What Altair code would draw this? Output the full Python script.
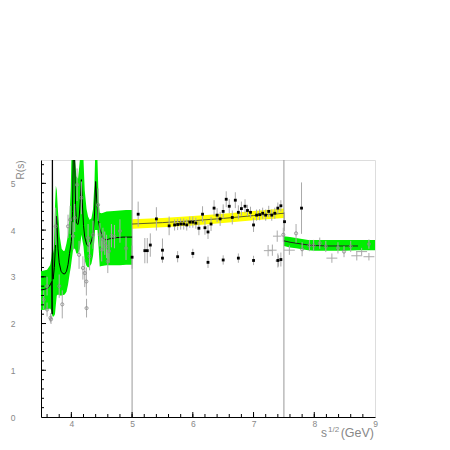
import altair as alt
import pandas as pd

# ---------------- charm region (3.5 - 5 GeV): green band + curve ----------------
band_x = [3.50, 3.60, 3.65, 3.67, 3.69, 3.71, 3.73, 3.745, 3.76, 3.78, 3.81, 3.84, 3.87, 3.89,
          3.92, 3.945, 3.97, 3.99, 4.00, 4.03, 4.06, 4.083, 4.11, 4.14, 4.165, 4.20, 4.22, 4.25,
          4.275, 4.30, 4.33, 4.357, 4.38, 4.39, 4.43, 4.45, 4.467, 4.50, 4.58, 4.70, 4.80, 4.90, 5.00]
band_hi = [3.12, 3.15, 3.25, 3.40, 3.66, 3.50, 4.50, 4.95, 4.85, 4.40, 3.85, 3.60, 3.55, 3.56,
           3.72, 3.90, 4.30, 4.90, 5.50, 5.50, 5.50, 5.15, 5.10, 5.50, 5.50, 5.50, 4.85, 4.45,
           4.29, 4.22, 4.25, 4.45, 5.00, 5.50, 5.50, 4.60, 4.37, 4.36, 4.40, 4.41, 4.42, 4.43, 4.43]
band_lo = [2.29, 2.30, 2.32, 2.28, 2.15, 2.15, 2.20, 2.40, 2.60, 2.62, 2.60, 2.60, 2.61, 2.62,
           2.68, 2.83, 3.05, 3.20, 3.30, 3.60, 3.60, 3.50, 3.50, 3.60, 3.90, 3.65, 3.35, 3.23,
           3.20, 3.22, 3.28, 3.45, 3.80, 4.00, 4.00, 3.60, 3.22, 3.23, 3.25, 3.25, 3.25, 3.26, 3.26]

curve_x = [3.50, 3.55, 3.60, 3.64, 3.67, 3.678, 3.683, 3.686, 3.690, 3.694, 3.70, 3.72, 3.735,
           3.745, 3.755, 3.765, 3.78, 3.80, 3.83, 3.86, 3.89, 3.92, 3.945, 3.97, 4.00, 4.02,
           4.03, 4.055, 4.07, 4.083, 4.11, 4.13, 4.15, 4.165, 4.18, 4.20, 4.22, 4.25, 4.275,
           4.30, 4.33, 4.357, 4.38, 4.40, 4.42, 4.44, 4.467, 4.50, 4.52, 4.55, 4.58, 4.65,
           4.75, 4.85, 5.00]
curve_y = [2.72, 2.73, 2.75, 2.80, 2.88, 2.90, 2.20, 5.50, 5.50, 3.00, 2.95, 3.20, 3.60,
           4.00, 4.30, 4.10, 3.60, 3.30, 3.12, 3.07, 3.06, 3.12, 3.26, 3.50, 3.76, 4.40,
           5.50, 5.50, 4.50, 4.15, 4.12, 4.30, 4.70, 5.08, 4.60, 4.10, 3.85, 3.70, 3.65,
           3.68, 3.76, 3.90, 4.30, 5.04, 4.60, 4.25, 4.04, 3.90, 3.83, 3.80, 3.79, 3.82,
           3.84, 3.85, 3.85]

# ---------------- 5 - 7.5 GeV: yellow band ----------------
yel_x = [5.0, 5.5, 6.0, 6.5, 7.0, 7.5]
yel_c = [4.13, 4.16, 4.20, 4.25, 4.31, 4.36]
yel_lo = [4.03, 4.06, 4.10, 4.15, 4.21, 4.26]
yel_hi = [4.23, 4.26, 4.30, 4.35, 4.41, 4.46]

# ---------------- 7.5 - 9 GeV: green band ----------------
hb_x = [7.5, 7.6, 7.7, 7.8, 7.9, 8.0, 8.2, 8.5, 8.72, 9.0]
hb_lo = [3.66, 3.63, 3.61, 3.59, 3.57, 3.56, 3.56, 3.56, 3.57, 3.57]
hb_hi = [3.87, 3.85, 3.83, 3.81, 3.79, 3.79, 3.79, 3.79, 3.79, 3.79]
hc_x = [7.5, 7.6, 7.7, 7.8, 7.9, 8.0, 8.2, 8.5, 8.72]
hc_y = [3.77, 3.74, 3.72, 3.70, 3.68, 3.67, 3.66, 3.66, 3.66]

# ---------------- data points ----------------
# open circles
oc_x = [3.545, 3.60, 3.60, 3.655, 3.665, 3.742, 3.80, 3.85, 3.945, 3.98, 4.028, 4.055, 4.094,
        4.127, 4.165, 4.19, 4.22, 4.247, 4.25, 4.275, 4.30, 4.357, 4.44, 4.47, 4.50, 4.52,
        4.55, 4.58, 4.60, 4.62, 4.66, 4.71, 4.80, 4.90,
        7.49, 7.70, 7.80, 7.92, 7.99, 8.09, 8.19, 8.39, 8.49, 8.60, 8.90]
oc_y = [2.51, 2.80, 2.30, 2.12, 2.09, 4.08, 2.80, 2.41, 4.08, 4.22, 3.87, 4.26, 4.97,
        3.47, 4.69, 3.19, 3.08, 2.90, 2.33, 3.83, 3.44, 3.90, 4.54, 3.90, 3.58, 3.80,
        3.72, 3.65, 3.33, 3.55, 3.88, 3.86, 3.98, 3.61,
        3.90, 3.93, 3.59, 3.67, 3.67, 3.72, 3.65, 3.62, 3.54, 3.65, 3.70]
oc_e = [0.20, 0.20, 0.15, 0.10, 0.10, 0.40, 0.25, 0.30, 0.25, 0.30, 0.30, 0.30, 0.35,
        0.30, 0.35, 0.25, 0.30, 0.30, 0.20, 0.30, 0.30, 0.30, 0.35, 0.25, 0.25, 0.25,
        0.25, 0.25, 0.25, 0.25, 0.25, 0.25, 0.25, 0.25,
        0.15, 0.20, 0.15, 0.12, 0.12, 0.12, 0.12, 0.12, 0.12, 0.12, 0.10]

# filled squares
sq_x = [5.10, 5.40, 5.61, 5.70, 5.75, 5.80, 5.85, 5.90, 5.95, 6.00, 6.05, 6.10, 6.16, 6.20,
        6.25, 6.30, 6.35, 6.40, 6.45, 6.50, 6.55, 6.60, 6.65, 6.70, 6.75, 6.80, 6.86, 6.90,
        6.95, 7.00, 7.05, 7.10, 7.15, 7.20, 7.25, 7.30, 7.35, 7.40, 7.45, 7.51, 7.79,
        5.00, 5.21, 5.25, 5.30, 5.50, 5.50, 5.75, 6.00, 6.25, 6.50, 6.75, 7.00, 7.40, 7.45]
sq_y = [4.34, 4.24, 4.09, 4.11, 4.12, 4.13, 4.13, 4.11, 4.17, 4.17, 4.15, 4.04, 4.34, 4.05,
        3.96, 4.13, 4.47, 4.32, 4.24, 4.40, 4.66, 4.51, 4.27, 4.64, 4.38, 4.46, 4.51, 4.42,
        4.38, 4.11, 4.32, 4.33, 4.36, 4.32, 4.40, 4.32, 4.36, 4.47, 4.52, 4.18, 4.47,
        3.42, 3.56, 3.56, 3.68, 3.57, 3.40, 3.43, 3.50, 3.31, 3.36, 3.40, 3.35, 3.35, 3.37]
sq_e = [0.27, 0.25, 0.20, 0.12, 0.12, 0.12, 0.12, 0.12, 0.12, 0.12, 0.12, 0.15, 0.17, 0.15,
        0.15, 0.15, 0.17, 0.15, 0.15, 0.15, 0.17, 0.15, 0.15, 0.17, 0.15, 0.15, 0.15, 0.12,
        0.12, 0.15, 0.12, 0.12, 0.12, 0.12, 0.12, 0.12, 0.12, 0.12, 0.12, 0.20, 0.55,
        0.25, 0.27, 0.27, 0.25, 0.25, 0.10, 0.12, 0.10, 0.12, 0.10, 0.10, 0.10, 0.15, 0.15]

# crosses (horizontal + vertical bars)
cr_x = [7.24, 7.31, 7.39, 7.41, 7.59, 8.29, 8.70, 8.78, 8.90]
cr_y = [3.56, 3.57, 3.87, 3.34, 3.57, 3.40, 3.45, 3.54, 3.43]
cr_e = [0.12, 0.12, 0.12, 0.12, 0.10, 0.10, 0.10, 0.08, 0.08]
cr_w = [0.07, 0.07, 0.07, 0.05, 0.09, 0.09, 0.09, 0.09, 0.09]

x_major = [4, 5, 6, 7, 8]
x_minor = [round(3.6 + 0.2 * i, 1) for i in range(27)]
y_major = [1, 2, 3, 4, 5]
y_minor = [round(0.2 * i, 1) for i in range(1, 28)]
separators = [5.0, 7.5]

W, H = 334, 257
XS = alt.Scale(domain=[3.5, 9.0], nice=False, zero=False)
YS = alt.Scale(domain=[0, 5.5], nice=False, zero=False)
FONT = "Liberation Sans"
GREEN = "#00ee00"
LBL = "#888"

band_df = pd.DataFrame({"x": band_x, "lo": band_lo, "hi": band_hi})
curve_df = pd.DataFrame({"x": curve_x, "y": curve_y})
yel_df = pd.DataFrame({"x": yel_x, "c": yel_c, "lo": yel_lo, "hi": yel_hi})
hb_df = pd.DataFrame({"x": hb_x, "lo": hb_lo, "hi": hb_hi})
hc_df = pd.DataFrame({"x": hc_x, "y": hc_y})
oc_df = pd.DataFrame({"x": oc_x, "y": oc_y, "e": oc_e})
oc_df["lo"] = oc_df.y - oc_df.e
oc_df["hi"] = oc_df.y + oc_df.e
sq_df = pd.DataFrame({"x": sq_x, "y": sq_y, "e": sq_e})
sq_df["lo"] = sq_df.y - sq_df.e
sq_df["hi"] = sq_df.y + sq_df.e
cr_df = pd.DataFrame({"x": cr_x, "y": cr_y, "e": cr_e, "w": cr_w})
cr_df["lo"] = cr_df.y - cr_df.e
cr_df["hi"] = cr_df.y + cr_df.e
cr_df["xl"] = cr_df.x - cr_df.w
cr_df["xh"] = cr_df.x + cr_df.w

xaxis = alt.Axis(values=[4, 5, 6, 7, 8, 9], format="d", grid=False, ticks=False, labelPadding=2,
                 labelFontSize=8.5, labelColor=LBL, labelFont=FONT, domainColor="black",
                 title=None, labelFlush=False)
yaxis = alt.Axis(values=[0, 1, 2, 3, 4, 5], format="d", grid=False, ticks=False, labelPadding=26,
                 labelFontSize=8.5, labelColor=LBL, labelFont=FONT, domainColor="black",
                 title="R(s)", titleFont=FONT, titleFontSize=10, titleFontWeight="normal",
                 titleColor=LBL, titleAnchor="end", titleAngle=270, titleAlign="right",
                 titleX=-21, titleY=0, titleBaseline="middle")

base_x = alt.X("x:Q", scale=XS, axis=xaxis)

bands = alt.Chart(band_df).mark_area(color=GREEN, clip=True).encode(
    x=base_x, y=alt.Y("lo:Q", scale=YS, axis=yaxis), y2="hi:Q")
curve = alt.Chart(curve_df).mark_line(color="black", strokeWidth=1, clip=True).encode(
    x="x:Q", y="y:Q")
yband = alt.Chart(yel_df).mark_area(color="#ffff00", clip=True).encode(
    x="x:Q", y="lo:Q", y2="hi:Q")
yline = alt.Chart(yel_df).mark_line(color="#333", strokeWidth=0.8).encode(x="x:Q", y="c:Q")
hband = alt.Chart(hb_df).mark_area(color=GREEN).encode(x="x:Q", y="lo:Q", y2="hi:Q")
hline = alt.Chart(hc_df).mark_line(color="#222", strokeWidth=1).encode(x="x:Q", y="y:Q")

sep = alt.Chart(pd.DataFrame({"x": separators})).mark_rule(color="#999", strokeWidth=1).encode(
    x="x:Q", y=alt.value(0), y2=alt.value(H))

oc_err = alt.Chart(oc_df).mark_rule(color="#aaa", strokeWidth=1, clip=True).encode(
    x="x:Q", y="lo:Q", y2="hi:Q")
oc_pts = alt.Chart(oc_df).mark_point(shape="circle", filled=False, color="#888", size=10,
                                     strokeWidth=0.8, opacity=1).encode(x="x:Q", y="y:Q")
sq_err = alt.Chart(sq_df).mark_rule(color="#aaa", strokeWidth=1, clip=True).encode(
    x="x:Q", y="lo:Q", y2="hi:Q")
sq_pts = alt.Chart(sq_df).mark_point(shape="square", filled=True, color="black", size=8,
                                     opacity=1).encode(x="x:Q", y="y:Q")
cr_v = alt.Chart(cr_df).mark_rule(color="#aaa", strokeWidth=1).encode(
    x="x:Q", y="lo:Q", y2="hi:Q")
cr_h = alt.Chart(cr_df).mark_rule(color="#aaa", strokeWidth=1).encode(
    x="xl:Q", x2="xh:Q", y="y:Q")

# inward ticks
xt_major = alt.Chart(pd.DataFrame({"x": x_major})).mark_rule(color="black").encode(
    x="x:Q", y=alt.value(H), y2=alt.value(H - 5))
xt_minor = alt.Chart(pd.DataFrame({"x": x_minor})).mark_rule(color="black").encode(
    x="x:Q", y=alt.value(H), y2=alt.value(H - 3))
yt_major = alt.Chart(pd.DataFrame({"y": y_major})).mark_rule(color="black").encode(
    y="y:Q", x=alt.value(0), x2=alt.value(5))
yt_minor = alt.Chart(pd.DataFrame({"y": y_minor})).mark_rule(color="black").encode(
    y="y:Q", x=alt.value(0), x2=alt.value(3))

# x-axis title s^{1/2}(GeV)
t1 = alt.Chart(pd.DataFrame({"t": ["s"]})).mark_text(
    font=FONT, fontSize=12, color=LBL, align="left", baseline="alphabetic").encode(
    text="t:N", x=alt.value(280), y=alt.value(277))
t2 = alt.Chart(pd.DataFrame({"t": ["1/2"]})).mark_text(
    font=FONT, fontSize=8, color=LBL, align="left", baseline="alphabetic").encode(
    text="t:N", x=alt.value(287), y=alt.value(272))
t3 = alt.Chart(pd.DataFrame({"t": ["(GeV)"]})).mark_text(
    font=FONT, fontSize=12.5, color=LBL, align="right", baseline="alphabetic").encode(
    text="t:N", x=alt.value(333), y=alt.value(277))

chart = alt.layer(
    bands, yband, hband, sep, curve, yline, hline,
    oc_err, sq_err, cr_v, cr_h, oc_pts, sq_pts,
    xt_major, xt_minor, yt_major, yt_minor, t1, t2, t3
).properties(
    width=W, height=H, autosize="none",
    padding={"left": 33, "top": 152, "right": 67, "bottom": 25}
).configure_view(stroke="#333", strokeWidth=1).configure(background="white")

chart.save("out.html", embed_options={"renderer": "svg", "actions": False})
